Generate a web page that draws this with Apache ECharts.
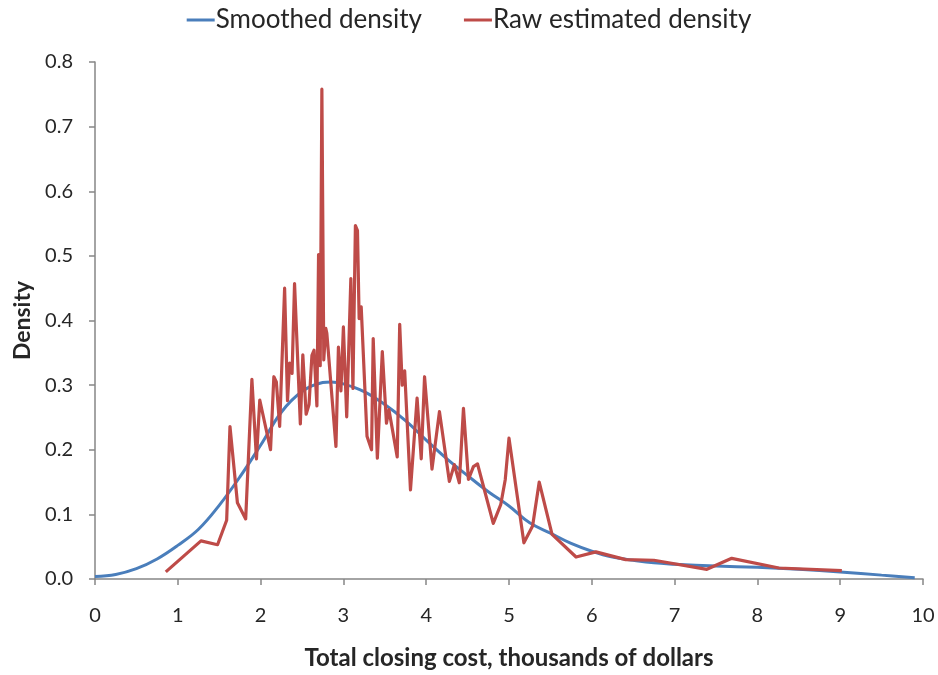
<!DOCTYPE html>
<html>
<head>
<meta charset="utf-8">
<script src="https://cdn.jsdelivr.net/npm/echarts@6/dist/echarts.min.js"></script>
<style>html,body{margin:0;padding:0;background:#fff}#c{width:938px;height:675px}</style>
</head>
<body>
<div id="c"></div>
<script>
var smoothX = [0,0.25,0.5,0.75,1.0,1.25,1.5,1.75,2.0,2.25,2.5,2.75,2.85,3.0,3.25,3.5,3.75,4.0,4.25,4.5,4.75,5.0,5.25,5.5,5.75,6.0,6.25,6.5,6.75,7.0,7.5,8.0,8.5,9.0,9.5,9.9];
var smoothY = [0.004,0.007,0.016,0.031,0.052,0.077,0.114,0.158,0.207,0.258,0.290,0.304,0.305,0.302,0.290,0.270,0.245,0.215,0.186,0.160,0.135,0.113,0.087,0.071,0.055,0.043,0.034,0.029,0.025,0.023,0.020,0.018,0.015,0.011,0.006,0.002];

var rawX = [0.855,1.28,1.48,1.59,1.63,1.72,1.82,1.895,1.95,1.99,2.12,2.16,2.19,2.23,2.29,2.325,2.35,2.38,2.41,2.48,2.51,2.55,2.585,2.62,2.645,2.68,2.70,2.72,2.74,2.763,2.787,2.80,2.91,2.94,2.97,3.00,3.04,3.09,3.115,3.145,3.17,3.19,3.215,3.285,3.34,3.36,3.41,3.47,3.52,3.55,3.65,3.68,3.71,3.74,3.81,3.89,3.94,3.98,4.07,4.16,4.28,4.34,4.40,4.45,4.51,4.57,4.62,4.81,4.90,4.955,5.00,5.18,5.285,5.365,5.52,5.81,6.05,6.41,6.75,7.39,7.69,8.26,9.02];
var rawY = [0.011,0.059,0.053,0.091,0.236,0.118,0.093,0.309,0.186,0.277,0.200,0.313,0.305,0.236,0.450,0.276,0.334,0.318,0.457,0.240,0.347,0.255,0.270,0.346,0.354,0.268,0.502,0.330,0.758,0.339,0.388,0.380,0.205,0.359,0.291,0.390,0.251,0.465,0.295,0.547,0.539,0.403,0.421,0.221,0.200,0.372,0.187,0.352,0.241,0.262,0.189,0.394,0.300,0.322,0.138,0.280,0.186,0.313,0.170,0.259,0.151,0.177,0.149,0.264,0.154,0.174,0.178,0.086,0.115,0.154,0.218,0.056,0.082,0.150,0.069,0.034,0.042,0.030,0.029,0.015,0.032,0.017,0.013];

var xTicks = [0,1,2,3,4,5,6,7,8,9,10];
var yTicks = [0,0.1,0.2,0.3,0.4,0.5,0.6,0.7,0.8];

function pairs(xs, ys){ return xs.map(function(x,i){return [x, ys[i]];}); }

var FONT = 'Lato, "Open Sans", sans-serif';
var chart = echarts.init(document.getElementById('c'), null, {renderer:'canvas'});
chart.setOption({
  animation: false,
  backgroundColor: '#ffffff',
  textStyle: {fontFamily: FONT},
  legend: {
    top: 2,
    left: 'center',
    itemWidth: 28,
    itemHeight: 3,
    itemGap: 42,
    icon: 'rect',
    textStyle: {fontSize: 26, color: '#262626', fontFamily: FONT, padding:[0,0,0,-4]},
    data: ['Smoothed density', 'Raw estimated density']
  },
  grid: {left: 95, right: 15, top: 62, bottom: 94, containLabel: false},
  xAxis: {
    type: 'value', min: xTicks[0], max: xTicks[xTicks.length-1], interval: 1,
    name: 'Total closing cost, thousands of dollars',
    nameLocation: 'middle', nameGap: 67,
    nameTextStyle: {fontSize: 24, fontWeight: 'bold', color: '#262626', fontFamily: FONT},
    axisLine: {show: true, lineStyle: {color: '#868686', width: 1.5}},
    axisTick: {show: true, inside: false, length: 6, lineStyle: {color: '#868686', width: 1.5}},
    axisLabel: {fontSize: 20, color: '#262626', margin: 27, fontFamily: FONT},
    splitLine: {show: false}
  },
  yAxis: {
    type: 'value', min: yTicks[0], max: yTicks[yTicks.length-1], interval: 0.1,
    name: 'Density',
    nameLocation: 'middle', nameGap: 61, nameRotate: 90,
    nameTextStyle: {fontSize: 23, fontWeight: 'bold', color: '#262626', fontFamily: FONT},
    axisLine: {show: true, lineStyle: {color: '#868686', width: 1.5}},
    axisTick: {show: true, inside: false, length: 6, lineStyle: {color: '#868686', width: 1.5}},
    axisLabel: {fontSize: 20, color: '#262626', margin: 22, fontFamily: FONT,
      formatter: function(v){ return v.toFixed(1); }},
    splitLine: {show: false}
  },
  series: [
    {
      name: 'Smoothed density', type: 'line', smooth: 0.4, showSymbol: false, symbol: 'none',
      data: pairs(smoothX, smoothY),
      itemStyle: {color: '#4A7EBB'},
      lineStyle: {color: '#4A7EBB', width: 3}
    },
    {
      name: 'Raw estimated density', type: 'line', smooth: false, showSymbol: false, symbol: 'none',
      data: pairs(rawX, rawY),
      itemStyle: {color: '#BE4B48'},
      lineStyle: {color: '#BE4B48', width: 3.2, join: 'round'}
    }
  ]
});
</script>
</body>
</html>
